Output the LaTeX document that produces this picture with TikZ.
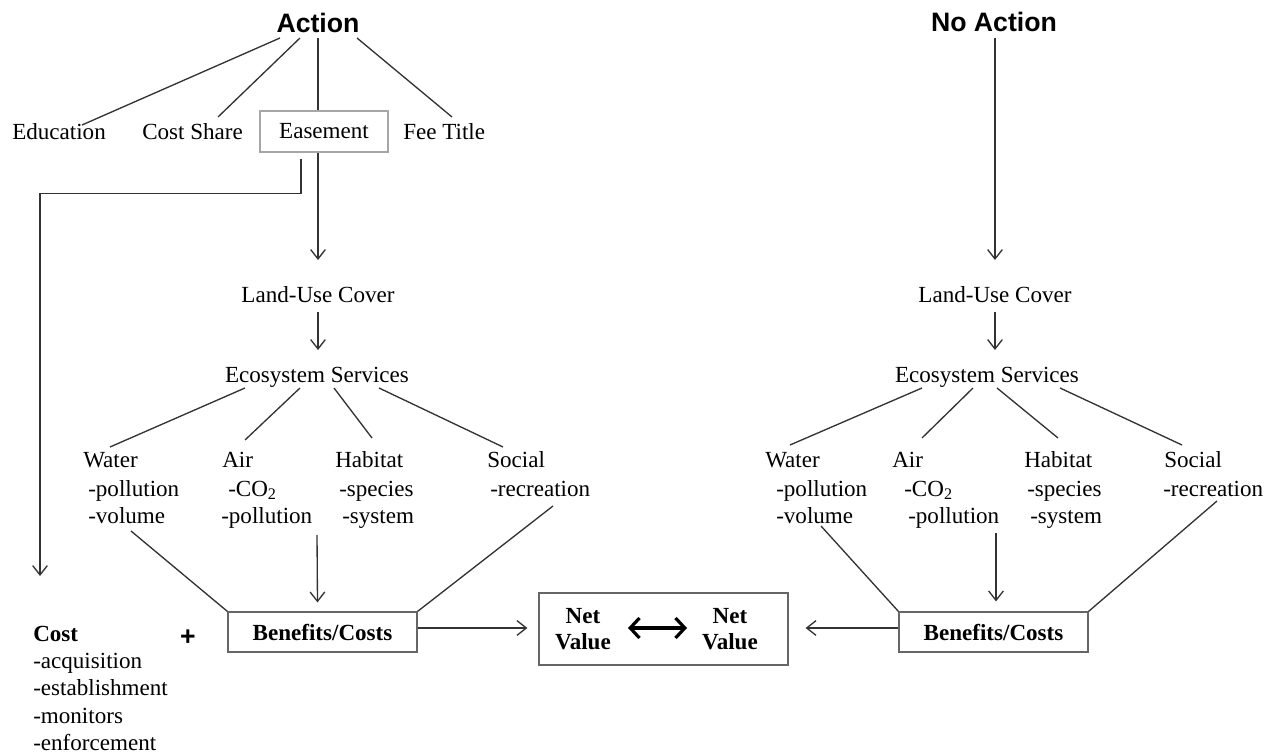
\documentclass[tikz,border=0pt]{standalone}
\usepackage{fontspec}
\setmainfont{Liberation Serif}
\newfontfamily\headfont{Liberation Sans}
\usetikzlibrary{arrows.meta,calc}
\definecolor{LineClr}{rgb}{0.2,0.2,0.2}
\definecolor{BoxClr}{rgb}{0.4,0.4,0.4}
\newcommand{\lstack}[1]{\begin{tabular}[t]{@{}l@{}}#1\end{tabular}}
\newcommand{\cstack}[1]{\begin{tabular}[t]{@{}c@{}}#1\end{tabular}}

\begin{document}
\begin{tikzpicture}[x=0.75pt,y=-0.75pt,
  every node/.style={font=\fontsize{17.3}{21}\selectfont,inner sep=0pt},
  title/.style={font=\headfont\bfseries\fontsize{20}{24}\selectfont},
  box/.style={draw=BoxClr,line width=0.9pt,minimum width=141.75pt,minimum height=30pt},
  ln/.style={draw=LineClr,line width=1pt},
  arr/.style={ln,-{Straight Barb[length=7pt,width=11pt]}},
  dbl/.style={draw=black,line width=2.4pt,{Straight Barb[length=7pt,width=15pt,line width=2.4pt]}-{Straight Barb[length=7pt,width=15pt,line width=2.4pt]}}]
\useasboundingbox (0,0) rectangle (1271,755);

\node[title,anchor=base] (act) at (318,33) {Action};
\node[title,anchor=base] (noact) at (994,32) {No Action};

\node[anchor=base west] (edu) at (12,140) {Education};
\node[anchor=base west] (cshare) at (142,140) {Cost Share};
\node[draw=gray!70,line width=0.8pt,minimum width=96pt,minimum height=30.75pt] (eas) at (324,131.5) {Easement};
\node[anchor=base west] (fee) at (403,140) {Fee Title};

\node[anchor=base] (lu) at (318,303) {Land-Use Cover};
\node[anchor=base] (eco) at (317,383) {Ecosystem Services};
\node[anchor=base west] (wat) at (83,468) {\lstack{Water\\\hspace{3.75pt}-pollution\\\hspace{3.75pt}-volume}};
\node[anchor=base west] (air) at (222,468) {\lstack{Air\\\hspace{4.5pt}-CO\textsubscript{2}\\\hspace{-0.75pt}-pollution}};
\node[anchor=base west] (hab) at (335,468) {\lstack{Habitat\\\hspace{3pt}-species\\\hspace{5.25pt}-system}};
\node[anchor=base west] (soc) at (487,468) {\lstack{Social\\\hspace{2.25pt}-recreation}};
\node[box,font=\fontsize{17.3}{21}\selectfont\bfseries] (ben) at (322.5,632) {Benefits/Costs};

\node[anchor=base west,font=\fontsize{17.3}{20.5}\selectfont] (cost) at (33,641) {\lstack{\textbf{Cost}\\-acquisition\\-establishment\\-monitors\\-enforcement}};
\node[font=\headfont\bfseries\fontsize{20}{24}\selectfont] (plus) at (188,638) {+};

\node[anchor=base] (lu2) at (995,303) {Land-Use Cover};
\node[anchor=base] (eco2) at (987,383) {Ecosystem Services};
\node[anchor=base west] (wat2) at (765,468) {\lstack{Water\\\hspace{8.25pt}-pollution\\\hspace{8.25pt}-volume}};
\node[anchor=base west] (air2) at (892,468) {\lstack{Air\\\hspace{9pt}-CO\textsubscript{2}\\\hspace{12pt}-pollution}};
\node[anchor=base west] (hab2) at (1024,468) {\lstack{Habitat\\\hspace{2.25pt}-species\\\hspace{4.5pt}-system}};
\node[anchor=base west] (soc2) at (1164,468) {\lstack{Social\\\hspace{-0.75pt}-recreation}};
\node[box,font=\fontsize{17.3}{21}\selectfont\bfseries] (ben2) at (993.5,632) {Benefits/Costs};

\node[box,minimum width=186.75pt,minimum height=54pt] (net) at (663.5,629) {};
\node[anchor=base,font=\fontsize{17.3}{20}\selectfont\bfseries] (nvl) at (583,623) {\cstack{Net\\Value}};
\node[anchor=base,font=\fontsize{17.3}{20}\selectfont\bfseries] (nvr) at (730,623) {\cstack{Net\\Value}};

\draw[ln] ($(act.base)+(-38,5)$) -- ($(edu.base west)+(70,-15)$);
\draw[ln] ($(act.base)+(-18,5)$) -- ($(cshare.base west)+(76,-23)$);
\draw[ln] ($(act.base)+(0,5)$) -- ($(eas.north)+(-6,0)$);
\draw[ln] ($(act.base)+(39,5)$) -- ($(fee.base west)+(49,-23)$);
\draw[arr] ($(eas.south)+(-6,0)$) -- ($(lu.base)+(0,-43)$);
\draw[arr] ($(eas.south)+(-23,6)$) -- ++(0,35) -| ($(cost.base west)+(7,-65)$);
\draw[arr] ($(lu.base)+(0,9)$) -- ($(eco.base)+(1,-33)$);
\draw[ln] ($(eco.base)+(-72,5)$) -- ($(wat.base west)+(27,-21)$);
\draw[ln] ($(eco.base)+(-17,5)$) -- ($(air.base west)+(23,-28)$);
\draw[ln] ($(eco.base)+(17,5)$) -- ($(hab.base west)+(37,-30)$);
\draw[ln] ($(eco.base)+(62,5)$) -- ($(soc.base west)+(16,-21)$);
\draw[ln] ($(wat.base west)+(48,63)$) -- (ben.north west);
\draw[arr] ($(air.base west)+(95,67)$) -- ($(ben.north)+(-5,-9)$);
\draw[ln] ($(soc.base west)+(66,38)$) -- (ben.north east);
\draw[arr] ($(ben.east)+(0,-4)$) -- ($(net.west)+(-11,-1)$);

\draw[arr] ($(noact.base)+(1,6)$) -- ($(lu2.base)+(0,-43)$);
\draw[arr] ($(lu2.base)+(0,9)$) -- ($(eco2.base)+(8,-33)$);
\draw[ln] ($(eco2.base)+(-65,5)$) -- ($(wat2.base west)+(25,-23)$);
\draw[ln] ($(eco2.base)+(-14,5)$) -- ($(air2.base west)+(30,-30)$);
\draw[ln] ($(eco2.base)+(10,5)$) -- ($(hab2.base west)+(34,-30)$);
\draw[ln] ($(eco2.base)+(73,5)$) -- ($(soc2.base west)+(18,-23)$);
\draw[ln] ($(wat2.base west)+(56,58)$) -- (ben2.north west);
\draw[arr] ($(air2.base west)+(104,65)$) -- ($(ben2.north)+(2.5,-10)$);
\draw[ln] ($(soc2.base west)+(53,33)$) -- (ben2.north east);
\draw[arr] ($(ben2.west)+(0,-4)$) -- ($(net.east)+(17,-1)$);

\draw[dbl] ($(nvl.base)+(45,5)$) -- ($(nvr.base)+(-43,5)$);

\end{tikzpicture}
\end{document}
